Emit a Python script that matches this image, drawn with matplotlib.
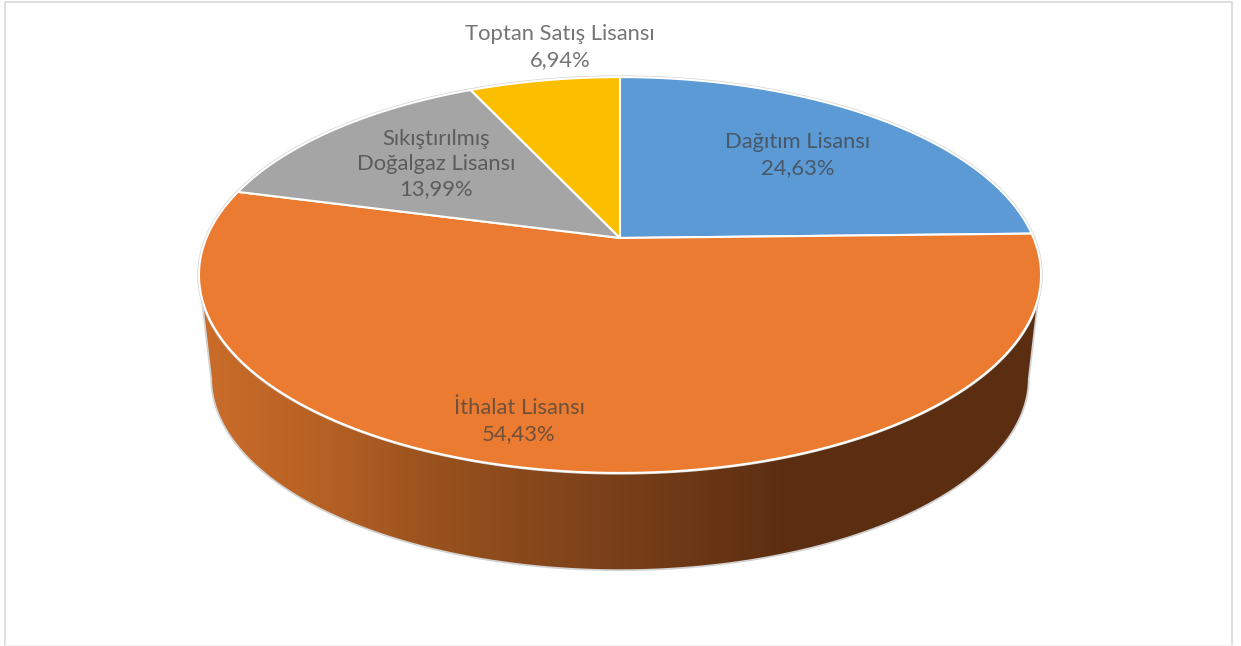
import numpy as np
import matplotlib
matplotlib.use("Agg")
import matplotlib.pyplot as plt
from matplotlib.patches import Polygon

plt.rcParams['font.family'] = ['Lato', 'Open Sans', 'DejaVu Sans']

labels = ["Dağıtım Lisansı", "İthalat Lisansı", "Sıkıştırılmış\nDoğalgaz Lisansı", "Toptan Satış Lisansı"]
shares = [24.63, 54.43, 13.99, 6.94]
colors = ["#5B9AD5", "#EA7B30", "#A5A5A5", "#FBBF00"]
label_xy = [(798, 155), (519, 421), (436, 164), (560, 47)]

# perspective of the tilted disc, measured in image pixels
CX, CY = 620, 238
HW, HH, TILT = 413.6, 191.0, 0.187
# the lower rim is the top rim shrunk a little and moved down
ELL_Y, DROP_Y, SHRINK = 275, 378, 0.971

# side wall shading, left to right
grad_x = [200, 330, 430, 600, 790, 1045]
grad_r = [203, 181, 154, 124, 91, 91]
grad_g = [109, 96, 82, 65, 46, 46]
grad_b = [42, 36, 30, 26, 17, 17]


def top_rim(theta):
    # theta runs clockwise from 12 o'clock
    d = 1 + TILT * np.cos(theta)
    return CX + HW * np.sin(theta) / d, CY - HH * np.cos(theta) / d


def low_rim(theta):
    x, y = top_rim(theta)
    return CX + (x - CX) * SHRINK, DROP_Y + (y - ELL_Y) * SHRINK


fig = plt.figure(figsize=(12.41, 6.46), dpi=100)
ax = fig.add_axes([0, 0, 1, 1])
ax.axis("off")

# outer frame, the bottom edge is almost gone in the picture
ax.plot([5, 5, 1232, 1232], [645, 2, 2, 645], color="#DEDEDE", lw=1.4, zorder=1)
ax.plot([5, 1232], [645, 645], color="#F4F4F4", lw=1.0, zorder=1)

# side wall
th_top = np.radians(np.linspace(107, 253, 200))
th_low = np.radians(np.linspace(101, 259, 200))
tx, ty = top_rim(th_top)
bx, by = low_rim(th_low)
wall = np.column_stack([np.r_[tx, bx[::-1]], np.r_[ty, by[::-1]]])

gx = np.arange(195, 1050)
shade = np.dstack([np.interp(gx, grad_x, grad_r),
                   np.interp(gx, grad_x, grad_g),
                   np.interp(gx, grad_x, grad_b)]).astype(np.uint8)
im = ax.imshow(shade, extent=(195, 1050, 600, 60), aspect="auto", zorder=2, interpolation="bilinear")
clip = Polygon(wall, closed=True, transform=ax.transData, fc="none", ec="none")
ax.add_patch(clip)
im.set_clip_path(clip)
ax.add_patch(Polygon(wall, closed=True, fill=False, ec="#D2D2D2", lw=1.3, zorder=3))

# grey halo round the disc
th_all = np.radians(np.linspace(0, 360, 500))
ax.add_patch(Polygon(np.column_stack(top_rim(th_all)), closed=True, fill=False, ec="#CFCFCF", lw=2.4, zorder=4))

# slices
edges = np.cumsum([0] + shares) / sum(shares) * 2 * np.pi
for i in range(len(shares)):
    th = np.linspace(edges[i], edges[i + 1], 200)
    x, y = top_rim(th)
    ax.add_patch(Polygon(np.column_stack([np.r_[CX, x], np.r_[CY, y]]), closed=True,
                         fc=colors[i], ec="white", lw=1.5, joinstyle="round", zorder=5))

for name, val, xy in zip(labels, shares, label_xy):
    txt = name + "\n" + f"{val:.2f}".replace(".", ",") + "%"
    ax.text(xy[0], xy[1], txt, ha="center", va="center", fontsize=15.8, linespacing=1.34,
            color="#404040", alpha=0.72, zorder=6)

ax.set_xlim(0, 1241)
ax.set_ylim(646, 0)
fig.savefig("out.png", dpi=100)
